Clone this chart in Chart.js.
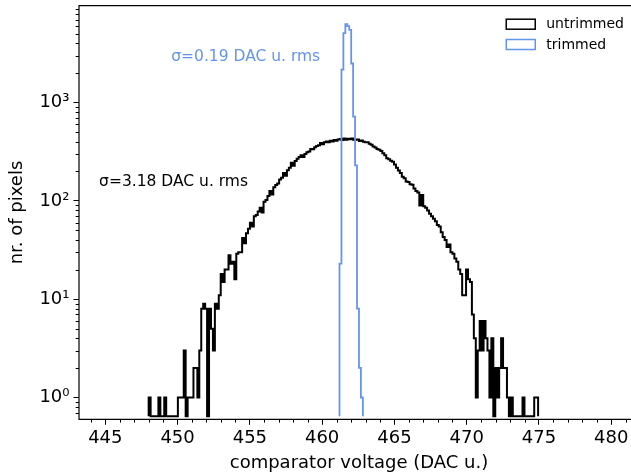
<!DOCTYPE html>
<html>
<head>
<meta charset="utf-8">
<script src="https://cdn.jsdelivr.net/npm/chart.js@4.4.0/dist/chart.umd.min.js"></script>
<style>
  html, body { margin: 0; padding: 0; background: #fff; overflow: hidden; }
  #clip { width: 631px; height: 474px; overflow: hidden; position: relative; }
  canvas { display: block; }
</style>
</head>
<body>
<div id="clip"><canvas id="chart" width="641" height="474"></canvas></div>
<script>
// histogram bins (shared by both series)
const binStart = 448.0;
const binWidth = 0.1347;

// counts per bin, untrimmed, starting at bin 0
const untrimmedCounts = [
  1, 0, 0, 0, 0, 1, 0, 0, 1, 0,
  0, 0, 0, 0, 0, 1, 1, 1, 3, 0,
  1, 1, 1, 2, 2, 1, 3, 8, 9, 8,
  0, 8, 5, 3, 9, 8, 11, 18, 15, 20,
  20, 28, 23, 24, 16, 29, 30, 30, 42, 37,
  47, 52, 60, 55, 70, 72, 78, 85, 76, 98,
  102, 112, 126, 116, 138, 145, 150, 165, 172, 192,
  180, 205, 218, 245, 228, 255, 268, 280, 292, 280,
  300, 312, 318, 338, 336, 352, 362, 368, 388, 376,
  395, 402, 396, 410, 402, 416, 410, 422, 426, 416,
  432, 418, 428, 424, 432, 420, 418, 422, 408, 412,
  400, 396, 395, 382, 372, 358, 350, 338, 332, 322,
  305, 292, 272, 266, 256, 250, 234, 218, 204, 192,
  176, 170, 158, 156, 148, 146, 134, 126, 122, 90,
  115, 88, 85, 80, 74, 70, 66, 62, 57, 55,
  48, 43, 40, 34, 36, 30, 29, 26, 24, 20,
  18, 11, 11, 20, 16, 15, 7, 4, 1, 3,
  6, 3, 6, 4, 3, 1, 4, 0, 2, 1,
  2, 4, 2, 2, 1, 0, 1, 0, 0, 0,
  0, 0, 1, 0, 0, 0, 0, 0, 1, 1
];

// trimmed counts, starting at bin trimmedFirstBin
const trimmedFirstBin = 98;
const trimmedCounts = [23, 2170, 5100, 6300, 6000, 5500, 2500, 720, 230, 8, 2, 1];

const xTicks = [445, 450, 455, 460, 465, 470, 475, 480];
const yTicks = [1, 10, 100, 1000];
const xRange = [443.18, 481.92];
const yRange = [0.643, 9680];

const annotations = [
  { text: "σ=0.19 DAC u. rms", x: 449.56, y: 2940, color: "#6495ed" },
  { text: "σ=3.18 DAC u. rms", x: 444.57, y: 157, color: "#000000" }
];

const supers = { 0: "⁰", 1: "¹", 2: "²", 3: "³" };

// outline points of a step histogram, zero bins sit on the axis floor
function stepPoints(firstBin, counts) {
  let pts = [];
  pts.push({ x: binStart + firstBin * binWidth, y: yRange[0] });
  counts.forEach((c, i) => {
    pts.push({ x: binStart + (firstBin + i) * binWidth, y: c > 0 ? c : yRange[0] });
  });
  pts.push({ x: binStart + (firstBin + counts.length) * binWidth, y: yRange[0] });
  return pts;
}

function noPad(s) {
  s.paddingTop = 0;
  s.paddingBottom = 0;
  s.paddingLeft = 0;
  s.paddingRight = 0;
}

const extras = {
  id: "extras",
  afterDraw(chart) {
    const ctx = chart.ctx;
    const a = chart.chartArea;
    const xs = chart.scales.x;
    const ys = chart.scales.y;
    ctx.save();
    ctx.strokeStyle = "#000";
    ctx.lineWidth = 1;

    // minor ticks
    ctx.beginPath();
    for (let v = Math.ceil(xRange[0]); v <= xRange[1]; v++) {
      if (v % 5 === 0) continue;
      let px = Math.round(xs.getPixelForValue(v)) + 0.5;
      ctx.moveTo(px, a.bottom);
      ctx.lineTo(px, a.bottom + 3.3);
    }
    for (let d = -1; d <= 3; d++) {
      for (let m = 2; m <= 9; m++) {
        let v = m * Math.pow(10, d);
        if (v < yRange[0] || v > yRange[1]) continue;
        let py = Math.round(ys.getPixelForValue(v)) + 0.5;
        ctx.moveTo(a.left, py);
        ctx.lineTo(a.left - 3.3, py);
      }
    }
    ctx.stroke();

    // spines: left, top, bottom (the right one falls outside the picture)
    ctx.lineWidth = 1.2;
    ctx.beginPath();
    ctx.moveTo(chart.width, a.top);
    ctx.lineTo(a.left, a.top);
    ctx.lineTo(a.left, a.bottom);
    ctx.lineTo(chart.width, a.bottom);
    ctx.stroke();

    // annotations
    ctx.font = "15.5px 'DejaVu Sans'";
    ctx.textBaseline = "middle";
    ctx.textAlign = "left";
    annotations.forEach((t) => {
      ctx.fillStyle = t.color;
      ctx.fillText(t.text, xs.getPixelForValue(t.x), ys.getPixelForValue(t.y));
    });

    // legend, placed from the 480 tick so it does not depend on the clipped right edge
    ctx.font = "14px 'DejaVu Sans'";
    let lx = xs.getPixelForValue(480);
    let legendOrder = [1, 0];
    legendOrder.forEach((di, row) => {
      let ds = chart.data.datasets[di];
      let y = a.top + 18.5 + row * 20.3;
      ctx.strokeStyle = ds.borderColor;
      ctx.lineWidth = 1.5;
      ctx.strokeRect(lx - 105, y - 5, 29, 10);
      ctx.fillStyle = "#000";
      ctx.fillText(ds.label, lx - 65, y + 0.5);
    });
    ctx.restore();
  }
};

new Chart(document.getElementById("chart"), {
  type: "line",
  data: {
    datasets: [
      {
        label: "trimmed",
        data: stepPoints(trimmedFirstBin, trimmedCounts),
        borderColor: "#6495ed",
        borderWidth: 1.8,
        stepped: "before",
        pointRadius: 0,
        fill: false,
        order: 0
      },
      {
        label: "untrimmed",
        data: stepPoints(0, untrimmedCounts),
        borderColor: "#000000",
        borderWidth: 2,
        stepped: "before",
        pointRadius: 0,
        fill: false,
        order: 1
      }
    ]
  },
  options: {
    responsive: false,
    maintainAspectRatio: false,
    animation: false,
    devicePixelRatio: 1,
    layout: { padding: { left: 0, right: 2, top: 5.7, bottom: 0 } },
    plugins: { legend: { display: false }, tooltip: { enabled: false } },
    scales: {
      x: {
        type: "linear",
        min: xRange[0],
        max: xRange[1],
        afterBuildTicks: (s) => { s.ticks = xTicks.map((v) => ({ value: v })); },
        afterFit: (s) => { s.height = 54.7; noPad(s); },
        ticks: { color: "#000", font: { size: 18, family: "'DejaVu Sans'" }, padding: 3, maxRotation: 0 },
        grid: { drawOnChartArea: false, drawTicks: true, tickLength: 5.5, tickColor: "#000", tickWidth: 1 },
        border: { display: false },
        title: {
          display: true,
          text: "comparator voltage (DAC u.)",
          color: "#000",
          font: { size: 18, family: "'DejaVu Sans'" },
          padding: { top: 0, bottom: 0 }
        }
      },
      y: {
        type: "logarithmic",
        min: yRange[0],
        max: yRange[1],
        afterBuildTicks: (s) => { s.ticks = yTicks.map((v) => ({ value: v })); },
        afterFit: (s) => { s.width = 79; noPad(s); },
        ticks: {
          color: "#000",
          font: { size: 18, family: "'DejaVu Sans'" },
          padding: 4,
          callback: (v) => "10" + supers[Math.round(Math.log10(v))]
        },
        grid: { drawOnChartArea: false, drawTicks: true, tickLength: 5.5, tickColor: "#000", tickWidth: 1 },
        border: { display: false },
        title: {
          display: true,
          text: "nr. of pixels",
          color: "#000",
          font: { size: 18, family: "'DejaVu Sans'" },
          padding: { top: 7, bottom: 7 }
        }
      }
    }
  },
  plugins: [extras]
});
</script>
</body>
</html>
